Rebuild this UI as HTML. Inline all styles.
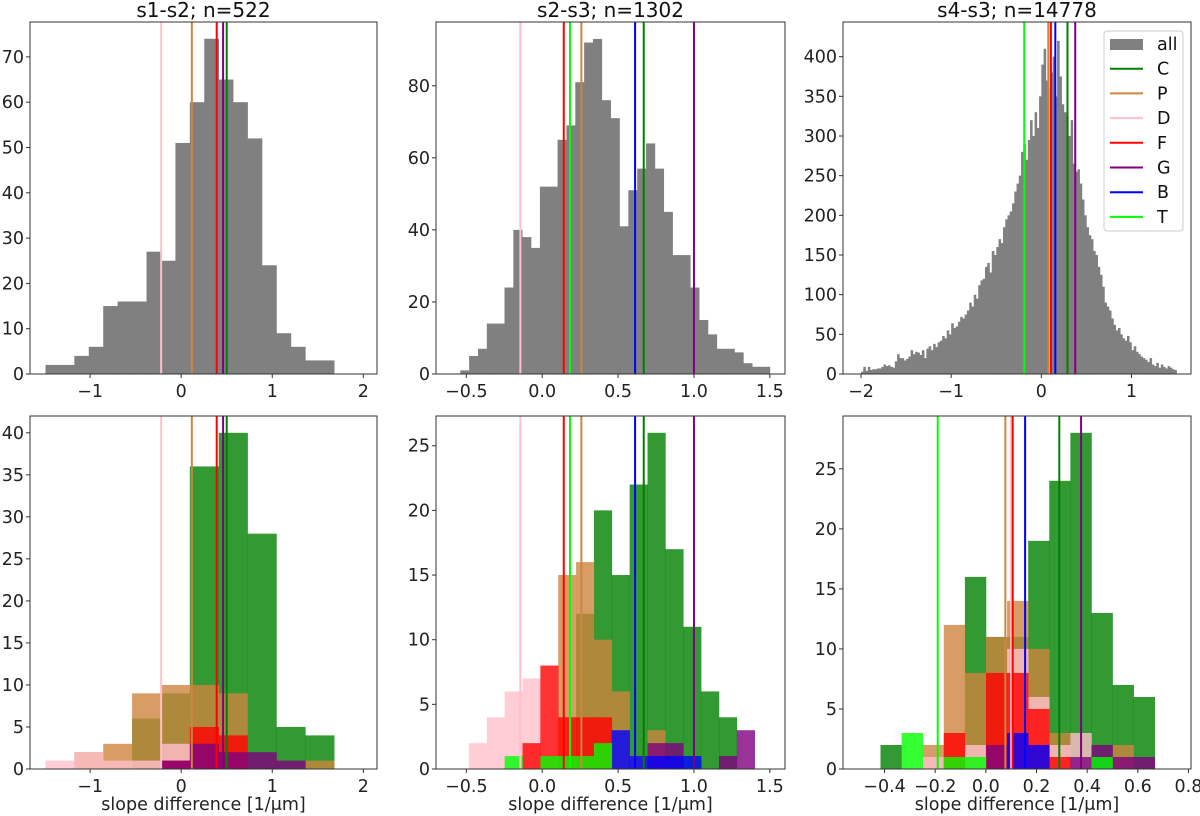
<!DOCTYPE html>
<html><head><meta charset="utf-8"><style>
body{margin:0;background:#fff;}
svg{display:block;font-family:"DejaVu Sans","Liberation Sans",sans-serif;}
</style></head><body>
<svg id="fig" width="1200" height="816" viewBox="0 0 1200 816" xmlns="http://www.w3.org/2000/svg"></svg>
<script>
const categories = ['C','P','D','F','G','B','T'];
const catColors = ['#008000','#cd853f','#ffc0cb','#ff0000','#800080','#0000ff','#00ff00'];
const titles = ['s1-s2; n=522','s2-s3; n=1302','s4-s3; n=14778'];

// top-row histograms (all)
const allStart = [-1.49, -0.54, -2.0];
const allWidth = [0.1585, 0.0583, 0.025];
const allVals1 = [2,2,4,6,15,16,16,27,25,51,60,74,65,60,52,24,9,6,3,3];
const allVals2 = [1,5,7,14,14,24,40,38,35,52,52,65,69,81,92,93,76,71,41,51,57,64,57,45,33,33,24,15,11,7,7,6,3,2,2];
const allVals3 = [3,9,4,9,5,6,6,7,7,9,
 12,10,11,9,8,16,25,20,20,17,
 19,22,30,25,28,27,24,30,20,32,
 35,30,38,34,40,42,48,45,55,50,
 64,58,60,66,72,70,75,80,90,85,
 100,95,112,118,120,135,140,128,155,150,
 160,170,165,185,195,200,205,215,230,240,
 250,280,290,270,295,320,300,330,310,350,
 390,410,370,360,380,400,350,420,375,340,
 330,325,300,320,265,255,258,240,220,200,
 185,175,170,155,150,135,125,110,90,85,
 80,70,62,55,58,50,45,42,48,40,
 30,35,28,25,22,20,18,15,20,12,
 10,14,8,12,9,7,10,8,6,5];

// vertical category mean lines per panel column (null = not shown)
const means1 = [0.50, 0.117, -0.22, 0.39, 0.46, null, null];
const means2 = [0.669, 0.258, -0.144, 0.142, 1.0, 0.612, 0.183];
const means3 = [0.29, 0.077, 0.10, 0.106, 0.376, 0.155, -0.19];

// bottom-row category histograms
const catStart = [-1.49, -0.483, -0.416];
const catWidth = [0.317, 0.1177, 0.0833];
const cat1C = [0,0,0,6,9,36,40,28,5,4];
const cat1P = [0,2,3,9,10,10,9,0,0,1];
const cat1D = [1,2,1,1,3,0,0,0,0,0];
const cat1F = [0,0,0,0,1,5,4,0,0,0];
const cat1G = [0,0,0,0,1,3,2,2,1,0];
const cat1B = [0,0,0,0,0,0,0,0,0,0];
const cat1T = [0,0,0,0,0,0,0,0,0,0];
const cat2C = [0,0,0,0,0,0,12,20,15,22,26,17,11,6,4,0];
const cat2P = [0,0,0,0,0,15,16,10,6,1,3,0,0,0,0,0];
const cat2D = [2,4,6,7,0,0,0,0,0,0,0,0,0,0,0,0];
const cat2F = [0,0,0,2,8,4,4,4,0,0,0,0,0,0,0,0];
const cat2G = [0,0,0,0,0,0,0,0,0,0,2,2,0,0,1,3];
const cat2B = [0,0,0,0,0,0,0,0,3,1,1,1,1,0,0,0];
const cat2T = [0,0,1,0,1,1,1,2,0,0,0,0,0,0,0,0];
const cat3C = [2,0,0,0,16,11,11,19,24,28,13,7,6];
const cat3P = [0,0,2,12,8,11,14,10,3,0,0,2,0];
const cat3D = [0,0,1,0,2,0,10,6,2,3,0,0,0];
const cat3F = [0,0,0,3,0,8,8,5,1,0,0,0,0];
const cat3G = [0,0,0,0,0,2,0,0,0,1,2,1,1];
const cat3B = [0,0,0,0,0,0,3,2,0,0,0,0,0];
const cat3T = [0,3,0,1,1,0,0,0,0,0,1,0,0];

const xTicks1 = [-1,0,1,2], xTickLabels1 = ['\u22121','0','1','2'];
const xTicks2 = [-0.5,0,0.5,1,1.5], xTickLabels2 = ['\u22120.5','0.0','0.5','1.0','1.5'];
const xTicks3top = [-2,-1,0,1], xTickLabels3top = ['\u22122','\u22121','0','1'];
const xTicks3bot = [-0.4,-0.2,0,0.2,0.4,0.6,0.8], xTickLabels3bot = ['\u22120.4','\u22120.2','0.0','0.2','0.4','0.6','0.8'];
const yTicksTop1 = [0,10,20,30,40,50,60,70];
const yTicksTop2 = [0,20,40,60,80];
const yTicksTop3 = [0,50,100,150,200,250,300,350,400];
const yTicksBot1 = [0,5,10,15,20,25,30,35,40];
const yTicksBot2 = [0,5,10,15,20,25];
const yTicksBot3 = [0,5,10,15,20,25];

const NS='http://www.w3.org/2000/svg';
const svg=document.getElementById('fig');
function mk(tag,attrs,parent){const e=document.createElementNS(NS,tag);for(const k in attrs)e.setAttribute(k,attrs[k]);(parent||svg).appendChild(e);return e;}

const cols=[{x0:30,x1:377,xmin:-1.66,xmax:2.15},{x0:436,x1:785,xmin:-0.70,xmax:1.60},{x0:843,x1:1191,xmin:-2.2,xmax:1.66}];
cols[2].xminB=-0.564; cols[2].xmaxB=0.81;
const rows=[{y0:22,y1:374},{y0:416,y1:769}];
const TF=17.5;

function panel(ci,ri,xmin,xmax,ymax,xt,xtl,yt,name){
  const c=cols[ci],r=rows[ri];
  const g=mk('g',{});
  
  
  const sx=v=>c.x0+(v-xmin)/(xmax-xmin)*(c.x1-c.x0);
  const sy=v=>r.y1-v/ymax*(r.y1-r.y0);
  return {g,sx,sy,c,r,xt,xtl,yt};
}
function finish(p,xname,yname){
  const {g,sx,sy,c,r}=p;
  const fr=mk('rect',{x:c.x0,y:r.y0,width:c.x1-c.x0,height:r.y1-r.y0,fill:'none',stroke:'#333',"stroke-width":1},g);
  
  
  const xa=mk('g',{},g);
  
  
  p.xt.forEach((v,i)=>{const x=sx(v);
    mk('line',{x1:x,x2:x,y1:r.y1,y2:r.y1+4,stroke:'#333'},xa);
    const t=mk('text',{x:x,y:r.y1+23,'text-anchor':'middle','font-size':TF,fill:'#222'},xa);t.textContent=p.xtl[i];});
  const ya=mk('g',{},g);
  
  
  p.yt.forEach(v=>{const y=sy(v);
    mk('line',{x1:c.x0-4,x2:c.x0,y1:y,y2:y,stroke:'#333'},ya);
    const t=mk('text',{x:c.x0-6,y:y+6,'text-anchor':'end','font-size':TF,fill:'#222'},ya);t.textContent=String(v);});
}
function bars(p,start,w,vals,color,op,name){
  vals.forEach((v,i)=>{ if(v<=0) return;
    const x0=p.sx(start+i*w),x1=p.sx(start+(i+1)*w),y=p.sy(v);
    const b=mk('rect',{x:x0,y:y,width:x1-x0+0.3,height:p.r.y1-y,fill:color,'fill-opacity':op},p.g);
    
    
  });
}
function vlines(p,means){
  means.forEach((m,i)=>{ if(m===null) return;
    const x=p.sx(m);
    const l=mk('line',{x1:x,x2:x,y1:p.r.y0,y2:p.r.y1,stroke:catColors[i],'stroke-width':2},p.g);
    
    
  });
}
function title(ci,txt){const c=cols[ci];
  const t=mk('text',{x:(c.x0+c.x1)/2,y:17,'text-anchor':'middle','font-size':20,fill:'#111'});
  t.textContent=txt;
  
  }
function xlabel(ci){const c=cols[ci];
  const t=mk('text',{x:(c.x0+c.x1)/2,y:810,'text-anchor':'middle','font-size':TF,fill:'#222'});
  t.textContent='slope difference [1/\u03bcm]';
  
  }

const allVals=[allVals1,allVals2,allVals3];
const means=[means1,means2,means3];
const tops=[77.7,97.7,443.7], bots=[42,27.3,29.4];
const xts=[[xTicks1,xTickLabels1],[xTicks2,xTickLabels2],[xTicks3top,xTickLabels3top]];
const xtsB=[[xTicks1,xTickLabels1],[xTicks2,xTickLabels2],[xTicks3bot,xTickLabels3bot]];
const ytT=[yTicksTop1,yTicksTop2,yTicksTop3], ytB=[yTicksBot1,yTicksBot2,yTicksBot3];
const catData=[[cat1C,cat1P,cat1D,cat1F,cat1G,cat1B,cat1T],[cat2C,cat2P,cat2D,cat2F,cat2G,cat2B,cat2T],[cat3C,cat3P,cat3D,cat3F,cat3G,cat3B,cat3T]];

for(let ci=0;ci<3;ci++){
  title(ci,titles[ci]);
  const c=cols[ci];
  const p=panel(ci,0,c.xmin,c.xmax,tops[ci],xts[ci][0],xts[ci][1],ytT[ci],'top-panel-'+(ci+1));
  bars(p,allStart[ci],allWidth[ci],allVals[ci],'#808080',1,'bar-all');
  vlines(p,means[ci]);
  finish(p,'x-axis','y-axis');
  const xmn=ci===2?c.xminB:c.xmin, xmx=ci===2?c.xmaxB:c.xmax;
  const q=panel(ci,1,xmn,xmx,bots[ci],xtsB[ci][0],xtsB[ci][1],ytB[ci],'bottom-panel-'+(ci+1));
  catData[ci].forEach((vals,k)=>bars(q,catStart[ci],catWidth[ci],vals,catColors[k],0.8,'bar-'+categories[k]));
  vlines(q,means[ci]);
  finish(q,'x-axis','y-axis');
  xlabel(ci);
}

// legend
const lg=mk('g',{});


mk('rect',{x:1104,y:31,width:79,height:200,rx:3,fill:'#fff','fill-opacity':0.85,stroke:'#ccc'},lg);
const labels=['all'].concat(categories);
labels.forEach((lab,i)=>{
  const y=44+i*24.7;
  const e=mk('g',{},lg);
  
  
  if(i===0) mk('rect',{x:1110,y:y-5,width:33,height:11,fill:'#808080'},e);
  else mk('line',{x1:1110,x2:1143,y1:y,y2:y,stroke:catColors[i-1],'stroke-width':2},e);
  const t=mk('text',{x:1157,y:y+6,'font-size':TF,fill:'#111'},e);t.textContent=lab;
});
</script>
</body></html>
